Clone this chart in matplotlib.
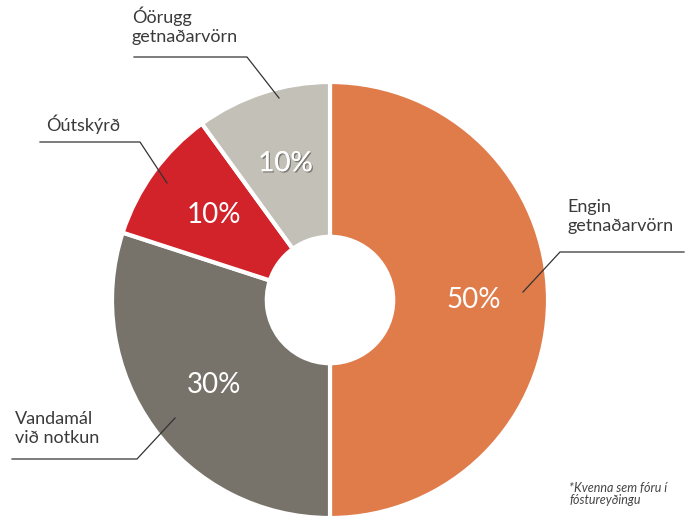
import matplotlib.pyplot as plt
import matplotlib.patheffects as pe

# data
labels = ["Engin\ngetnaðarvörn", "Vandamál\nvið notkun", "Óútskýrð", "Óörugg\ngetnaðarvörn"]
values = [50, 30, 10, 10]
colors = ["#E07B4A", "#77736A", "#D2232B", "#C3C0B8"]
footnote = "*Kvenna sem fóru í\nfóstureyðingu"

W, H = 698, 517
CX, CY, R = 330, 300, 218


def px(x, y):
    # pixel position -> data coords (pie centred at 0,0 with radius 1)
    return (x - CX) / R, (CY - y) / R


plt.rcParams['font.family'] = ['Lato', 'DejaVu Sans']

fig = plt.figure(figsize=(W / 100, H / 100), dpi=100)
ax = fig.add_axes([0, 0, 1, 1])

wedges, _, autotexts = ax.pie(values, colors=colors, startangle=90, counterclock=False,
                              radius=1, autopct='%d%%', pctdistance=0.66,
                              wedgeprops=dict(width=0.71, edgecolor='white', linewidth=3),
                              textprops=dict(color='white', fontsize=20))
autotexts[3].set_path_effects([pe.withSimplePatchShadow(offset=(1, -1), shadow_rgbFace='#6f6b64', alpha=0.8),
                               pe.Normal()])

ax.set_xlim(-CX / R, (W - CX) / R)
ax.set_ylim(-(H - CY) / R, CY / R)
ax.set_aspect('equal')
ax.axis('off')

# labels with leader lines: (text pos, line points)
label_pos = [(567, 199), (15, 411), (46, 115), (132, 6)]
leaders = [
    [(684, 252), (560, 252), (523, 292)],
    [(12, 459), (137, 459), (175, 418)],
    [(40, 142), (140, 142), (167, 183)],
    [(134, 57), (247, 57), (279, 98)],
]
for lab, (tx, ty), pts in zip(labels, label_pos, leaders):
    x0, y0 = px(tx, ty)
    ax.text(x0, y0, lab, fontsize=13, color='#3a3a3a', ha='left', va='top', linespacing=1.25)
    xs = [px(a, b)[0] for a, b in pts]
    ys = [px(a, b)[1] for a, b in pts]
    ax.plot(xs, ys, color='#333333', lw=0.9)

fx, fy = px(569, 482)
ax.text(fx, fy, footnote, fontsize=9, style='italic', color='#444444', ha='left', va='top', linespacing=1.0)

fig.savefig('out.png', dpi=100)
